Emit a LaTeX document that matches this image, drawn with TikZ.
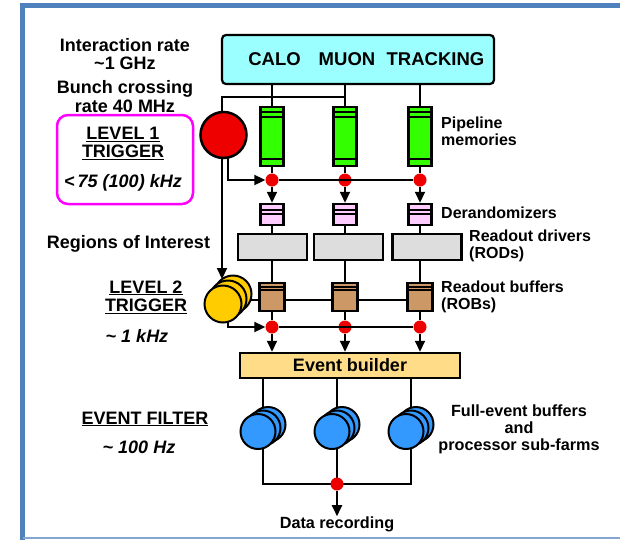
\documentclass[tikz,border=0pt]{standalone}
\usepackage{fontspec}
\setmainfont{Liberation Sans}
\usetikzlibrary{arrows.meta}

\definecolor{frameblue}{HTML}{4F81BD}
\definecolor{detcyan}{HTML}{9CFFFF}
\definecolor{pipegreen}{HTML}{33FF00}
\definecolor{derpink}{HTML}{FFCCFF}
\definecolor{rodgray}{HTML}{DDDDDD}
\definecolor{robtan}{HTML}{CC9966}
\definecolor{lvtwo}{HTML}{FFCC00}
\definecolor{evbuild}{HTML}{FFDD88}
\definecolor{farmblue}{HTML}{3399FF}
\definecolor{dotred}{HTML}{EE0000}
\definecolor{trigmag}{HTML}{FF00FF}

\tikzset{
  lbl/.style={font=\fontsize{18}{20}\selectfont\bfseries, inner sep=0pt, align=center},
  rlbl/.style={font=\fontsize{16}{17}\selectfont\bfseries, inner sep=0pt, align=left, anchor=west},
  wire/.style={line width=2pt, draw=black},
  arr/.style={wire, -{Triangle[length=11pt,width=10pt]}},
  box/.style={draw=black, line width=2.5pt, inner sep=0pt},
  pipebox/.style={box, fill=pipegreen, minimum width=23pt, minimum height=59pt,
    path picture={
      \draw[line width=1.8pt] ([yshift=-5pt]path picture bounding box.north west) -- ([yshift=-5pt]path picture bounding box.north east);
      \draw[line width=1.8pt] ([yshift=-10pt]path picture bounding box.north west) -- ([yshift=-10pt]path picture bounding box.north east);
      \draw[line width=1.8pt] ([yshift=7pt]path picture bounding box.south west) -- ([yshift=7pt]path picture bounding box.south east);}},
  derbox/.style={box, fill=derpink, minimum width=23pt, minimum height=21pt,
    path picture={
      \draw[line width=1.4pt] ([yshift=-6pt]path picture bounding box.north west) -- ([yshift=-6pt]path picture bounding box.north east);
      \draw[line width=1.4pt] ([yshift=-10pt]path picture bounding box.north west) -- ([yshift=-10pt]path picture bounding box.north east);}},
  rodbox/.style={box, fill=rodgray, minimum width=69pt, minimum height=26pt},
  robbox/.style={box, line width=2.8pt, fill=robtan, minimum width=25pt, minimum height=28pt,
    path picture={
      \draw[line width=1.2pt] ([yshift=-4pt]path picture bounding box.north west) -- ([yshift=-4pt]path picture bounding box.north east);
      \draw[line width=1.2pt] ([yshift=-7pt]path picture bounding box.north west) -- ([yshift=-7pt]path picture bounding box.north east);}},
  dot/.style={circle, fill=dotred, minimum size=13pt, inner sep=0pt},
  disk/.style={circle, draw=black, line width=2pt, inner sep=0pt},
}

\begin{document}
\begin{tikzpicture}[x=1pt, y=-1pt]
\useasboundingbox (0,0) rectangle (620,539);

% page frame
\draw[frameblue, line width=5pt] (22.5,545) -- (22.5,5.5) -- (630,5.5);
\draw[frameblue!70, line width=1.5pt] (22.5,538) -- (630,538);

% column positions
\def\ca{272}\def\cb{345}\def\cc{420}

% detectors
\node[draw=black, line width=2.2pt, fill=detcyan, rounded corners=4pt, minimum width=272pt, minimum height=49pt, inner sep=0pt] (det) at (358,59.5) {};
\node[lbl, font=\fontsize{18.5}{20}\selectfont\bfseries] (calo) at (274.5,59) {CALO};
\node[lbl, font=\fontsize{18.5}{20}\selectfont\bfseries] (muon) at (347,59) {MUON};
\node[lbl, font=\fontsize{18.5}{20}\selectfont\bfseries] (trk) at (435.5,59) {TRACKING};

% level-1 trigger
\node[disk, line width=2.5pt, fill=dotred, minimum size=46pt] (l1) at (223.5,135) {};

% pipelines, derandomizers, RODs, ROBs
\node[pipebox] (p1) at (\ca,136.5) {};
\node[pipebox] (p2) at (\cb,136.5) {};
\node[pipebox] (p3) at (\cc,136.5) {};

\node[dot] (d1) at (\ca,180) {};
\node[dot] (d2) at (\cb,180) {};
\node[dot] (d3) at (\cc,180) {};

\node[derbox] (q1) at (\ca,214.5) {};
\node[derbox] (q2) at (\cb,214.5) {};
\node[derbox] (q3) at (\cc,214.5) {};

\node[rodbox] (r1) at (272.5,247) {};
\node[rodbox] (r2) at (348.5,247) {};
\node[rodbox] (r3) at (427,247) {};

% wires behind the ROBs
\coordinate (l2in) at (222,279);
\coordinate (robbus) at (243,300);
\draw[wire] (robbus) -- (\cc,300);

\node[robbox] (b1) at (\ca,297) {};
\node[robbox] (b2) at (\cb,297) {};
\node[robbox] (b3) at (\cc,297) {};

% level-2 trigger processors
\node[disk, fill=lvtwo, minimum size=37pt] (l2c) at (233,294) {};
\node[disk, fill=lvtwo, minimum size=37pt] (l2b) at (228,299) {};
\node[disk, fill=lvtwo, minimum size=37pt] (l2) at (223,304) {};

\node[dot] (e1) at (\ca,327) {};
\node[dot] (e2) at (\cb,327) {};
\node[dot] (e3) at (\cc,327) {};

% event builder
\node[box, fill=evbuild, minimum width=220pt, minimum height=25pt, font=\fontsize{18}{20}\selectfont\bfseries] (eb) at (350,365.5) {Event builder};

% event filter farms: wires first, disks drawn over them
\coordinate (fa) at (263,484);
\coordinate (fc) at (411,484);
\draw[wire] (263,378) -- (fa) -- (fc) -- (411,378);
\draw[wire] (337,378) -- (337,484);

\foreach \n/\x in {f1/258, f2/332, f3/406}{
  \node[disk, fill=farmblue, minimum size=35pt] (\n c) at (\x+10,424.5) {};
  \node[disk, fill=farmblue, minimum size=35pt] (\n b) at (\x+5,428) {};
  \node[disk, fill=farmblue, minimum size=35pt] (\n) at (\x,431.5) {};
}

\node[dot] (out) at (337,484) {};
\node[lbl, font=\fontsize{16.2}{18}\selectfont\bfseries] (rec) at (337,524) {Data recording};
\draw[arr] (out) -- (rec.north);

% detector readout to pipelines and level-1 trigger
\draw[wire] (\ca,84) -- (p1.north);
\draw[wire] (\cb,84) -- (p2.north);
\draw[wire] (\cc,84) -- (p3.north);
\draw[wire] (\cb,97) -- (222,97) -- (l1.north -| 222,0);

% level-1 accept
\draw[arr] (228,157) |- (d1.west);
\draw[wire] (d1) -- (d3);
\foreach \i in {1,2,3}{
  \draw[wire] (p\i.south) -- (d\i);
  \draw[arr] (d\i) -- (q\i.north);
  \draw[wire] (q\i.south) -- (q\i.south |- r1.north);
  \draw[wire] (q\i.south |- r1.south) -- (b\i.north);
  \draw[wire] (b\i.south) -- (e\i);
  \draw[arr] (e\i) -- (eb.north -| e\i);
}

% regions of interest to level 2
\draw[arr] (222,158) -- (l2in);

% level-2 accept
\draw[arr] (228,322) |- (e1.west);
\draw[wire] (e1) -- (e3);

% left-hand labels
\node[lbl] (irate) at (125,54.5) {Interaction rate\\[-2pt]\textasciitilde1 GHz};
\node[lbl] (bx) at (125,96.5) {Bunch crossing\\[-1pt]rate 40 MHz};
\node[draw=trigmag, line width=2.5pt, rounded corners=11pt, minimum width=136pt, minimum height=89pt] (l1box) at (125,159.5) {};
\node[lbl] (l1t) at (123,143.5) {\underline{LEVEL 1}\\[-2pt]\underline{TRIGGER}};
\node[lbl] (l1r) at (123,182.5) {\itshape <\,75 (100) kHz};
\node[lbl] (roi) at (128.5,244) {Regions of Interest};
\node[lbl] (l2t) at (146,297) {\underline{LEVEL 2}\\[-2pt]\underline{TRIGGER}};
\node[lbl] (l2r) at (137,336) {\itshape \textasciitilde\ 1 kHz};
\node[lbl] (eft) at (145,419) {\underline{EVENT FILTER}};
\node[lbl] (efr) at (139,447) {\itshape \textasciitilde\ 100 Hz};

% right-hand labels
\node[rlbl] (pipel) at (441,131) {Pipeline\\memories};
\node[rlbl] (derl) at (441,213) {Derandomizers};
\node[rlbl] (rodl) at (469,246) {Readout drivers\\(RODs)};
\node[rlbl] (robl) at (441,297) {Readout buffers\\(ROBs)};
\node[lbl, font=\fontsize{16.2}{17}\selectfont\bfseries] (farml) at (519,429) {Full-event buffers\\and\\processor sub-farms};
\end{tikzpicture}
\end{document}
